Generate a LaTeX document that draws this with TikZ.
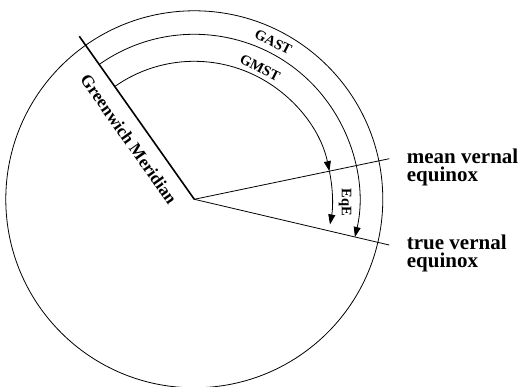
\documentclass[tikz,border=0pt]{standalone}
\usepackage{fontspec}
\setmainfont{Liberation Serif}
\usetikzlibrary{arrows.meta}
\begin{document}
\begin{tikzpicture}[x=1pt,y=1pt,
  thin line/.style={line width=0.8pt},
  arc arrow/.style={line width=0.8pt,-{Triangle[length=10pt,width=7pt]}},
  arc label/.style={font=\fontsize{14.5}{16}\selectfont\bfseries,inner sep=0pt},
  side label/.style={font=\fontsize{21}{17.7}\selectfont\bfseries,align=left,inner sep=0pt,anchor=base west}]
\useasboundingbox (-194.3,-187.7) rectangle (328.7,199.3);
\coordinate (C) at (0,0);
\coordinate (GM) at (125.2:199.5pt);
\coordinate (MV) at (11.76:199.2pt);
\coordinate (TV) at (-13.2:200.3pt);
\draw[thin line] (C) circle[radius=188.5pt];
\draw[line width=1.6pt] (C) -- (GM);
\draw[thin line] (C) -- (MV);
\draw[thin line] (C) -- (TV);
% arcs
\coordinate (gmstS) at (125.2:138pt);
\coordinate (eqeS) at (11.76:138pt);
\coordinate (gastS) at (125.2:165pt);
\draw[arc arrow] (gmstS) arc[start angle=125.2,end angle=11.76,radius=138pt];
\draw[arc arrow] (eqeS) arc[start angle=11.76,end angle=-10.5,radius=138pt];
\draw[arc arrow] (gastS) arc[start angle=125.2,end angle=-13.2,radius=165pt];
% labels
\node[arc label,rotate=-26.7] (gast) at (63.3:176pt) {GAST};
\node[arc label,rotate=-26.6] (gmst) at (63.4:147pt) {GMST};
\node[arc label,rotate=-90] (eqe) at (150.7,-3.2) {EqE};
\node[font=\fontsize{17.3}{19}\selectfont\bfseries,inner sep=0pt,rotate=-54.8] (gml) at (-65.5,60.2) {Greenwich Meridian};
\node[side label] (mvl) at (212.4,17.6) {mean vernal\\equinox};
\node[side label] (tvl) at (212.4,-68.4) {true vernal\\equinox};
\end{tikzpicture}
\end{document}
